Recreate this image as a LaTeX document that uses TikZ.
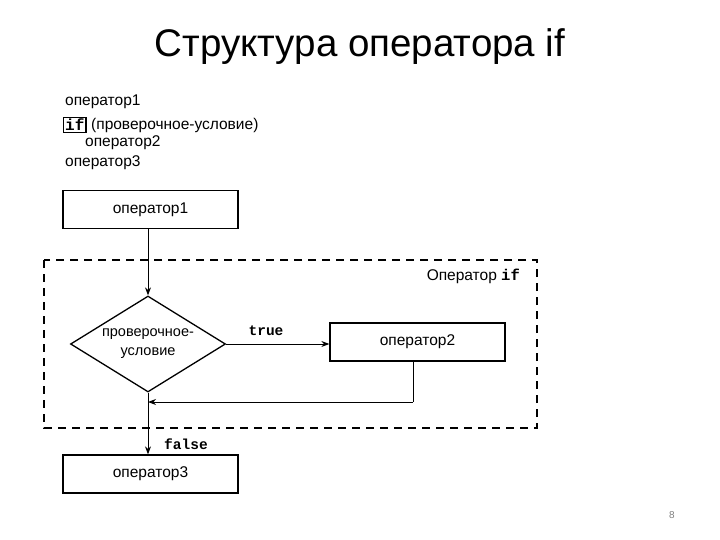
\documentclass[tikz,border=0pt]{standalone}
\usepackage{fontspec}
\setmainfont{Liberation Sans}
\newfontfamily\codefont{Liberation Mono}
\usetikzlibrary{shapes.geometric,arrows.meta}
\begin{document}
\begin{tikzpicture}[x=1pt,y=-1pt,
  box/.style={draw,line width=1.3pt,minimum width=175pt,minimum height=38pt,inner sep=0pt,font=\fontsize{15.5}{18}\selectfont},
  cond/.style={draw,diamond,line width=1.3pt,minimum width=155pt,minimum height=96pt,inner sep=0pt},
  condtext/.style={align=center,inner sep=0pt,font=\fontsize{14.5}{19}\selectfont},
  arr/.style={line width=1pt,-{Stealth[length=8pt,width=6pt]}},
  lbl/.style={font=\codefont\bfseries\fontsize{14.5}{16}\selectfont,inner sep=0pt},
  code/.style={anchor=west,inner sep=0pt,font=\fontsize{15.5}{18}\selectfont},
  frame/.style={draw,line width=1.8pt,dash pattern=on 8pt off 6pt}
]
\useasboundingbox (0,0) rectangle (720,540);
\node[font=\fontsize{38.5}{44}\selectfont] (title) at (360,47) {Структура оператора if};
% code listing
\node[code] (c1) at (65,102) {оператор1};
\node[draw,line width=1.3pt,inner xsep=1.5pt,inner ysep=1.5pt,anchor=west,font=\codefont\bfseries\fontsize{16}{18}\selectfont] (cif) at (63,125) {if};
\node[code] (c2) at (91,125) {(проверочное-условие)};
\node[code] (c3) at (85,143) {оператор2};
\node[code] (c4) at (65,163) {оператор3};
% frame
\draw[frame] (44,260) rectangle (537,428);
\node[anchor=east,inner sep=0pt,font=\fontsize{15.5}{18}\selectfont] (iflbl) at (520,276) {Оператор \codefont\bfseries if};
% boxes
\node[box] (op1) at (150.5,209.5) {оператор1};
\node[cond] (c) at (148,344) {};
\node[condtext] (ct) at (c.center) {проверочное-\\условие};
\node[box] (op2) at (417.5,342) {оператор2};
\node[box] (op3) at (150.5,474) {оператор3};
\coordinate (ret) at (413,402);
\coordinate (join) at (148,402);
% connectors
\draw[arr] (op1.south -| c.north) -- (c.north);
\draw[arr] (c.east) -- (op2.west |- c.east);
\node[lbl] (t) at (266,331) {true};
\draw[line width=1pt] (op2.south -| ret) -- (ret);
\draw[arr] (ret) -- (join);
\draw[arr] (c.south) -- (op3.north -| c.south);
\node[lbl] (f) at (186,444) {false};
\node[font=\fontsize{10}{12}\selectfont,text=gray] (pg) at (672,515) {8};
\end{tikzpicture}
\end{document}
